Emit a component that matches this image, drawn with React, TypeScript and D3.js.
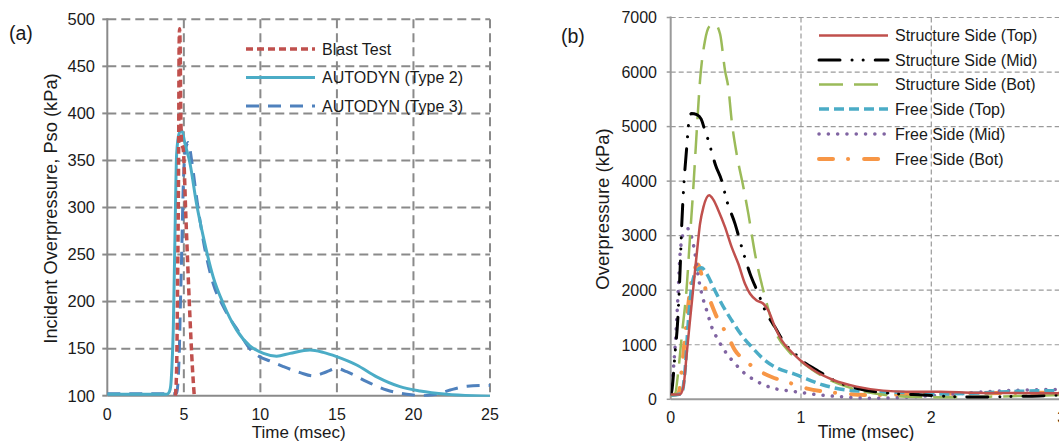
import React from "react";
import * as d3 from "d3";

type Pt = [number, number];

// ---------- Panel (a) data ----------
const aXTicks = [0, 5, 10, 15, 20, 25];
const aYTicks = [100, 150, 200, 250, 300, 350, 400, 450, 500];
const blastTest: Pt[] = [[4.45,100],[4.53,130],[4.6,233],[4.66,357],[4.69,470],[4.72,490],[4.76,470],[4.8,400],[4.86,368],[4.96,362],[5.14,287],[5.36,198],[5.57,127],[5.68,100]];
const autodynType2: Pt[] = [[0,101.5],[3.88,101.5],[4.05,104],[4.14,110],[4.22,130],[4.31,170],[4.42,269],[4.53,357],[4.7,379],[4.86,382],[5.07,368],[5.4,347],[5.83,304],[6.27,269],[6.92,226],[7.57,198],[8.44,170],[9.31,153],[10.2,145],[11.06,142],[11.94,145],[13.24,148.5],[14.11,146],[14.98,141.5],[16.29,132.6],[17.6,120],[19.12,109.6],[20.43,105],[22.17,101.6],[23.9,100],[25,99.5]];
const autodynType3: Pt[] = [[0,102],[4.4,102],[4.53,103],[4.62,115],[4.7,145],[4.78,200],[4.86,251],[4.96,322],[5.06,355],[5.14,364],[5.29,369],[5.51,350],[5.83,311],[6.27,265],[6.92,219],[7.57,195],[8.66,166],[9.31,150],[10.0,141],[10.62,137],[11.5,131],[12.6,124.5],[13.46,121],[14.33,125.5],[14.98,129],[15.64,125.5],[16.95,115],[18.25,106],[19.56,101.6],[20.65,100],[21.5,101.6],[22.4,106],[23.5,110],[25,111]];

// ---------- Panel (b) data ----------
const bXTicks = [0, 1, 2, 3];
const bYTicks = [0, 1000, 2000, 3000, 4000, 5000, 6000, 7000];
const structTop: Pt[] = [[0,90],[0.07,90],[0.097,226],[0.123,836],[0.148,1447],[0.174,2057],[0.2,2668],[0.225,3217],[0.251,3523],[0.295,3740],[0.327,3660],[0.366,3462],[0.417,3156],[0.468,2790],[0.519,2485],[0.57,2118],[0.609,1935],[0.66,1813],[0.711,1752],[0.749,1630],[0.8,1325],[0.852,1081],[0.928,867],[0.992,721],[1.095,537],[1.248,354],[1.427,232],[1.63,159],[1.81,140],[2.07,140],[2.32,122],[2.58,115],[3,110]];
const structMid: Pt[] = [[0,100],[0.008,150],[0.033,836],[0.054,1447],[0.072,2363],[0.084,3156],[0.105,4072],[0.123,4621],[0.141,5110],[0.16,5240],[0.2,5220],[0.233,5140],[0.263,4927],[0.289,4744],[0.315,4530],[0.345,4286],[0.391,4011],[0.43,3645],[0.494,3217],[0.545,2790],[0.609,2302],[0.673,1935],[0.724,1630],[0.8,1325],[0.877,1020],[0.954,836],[1.018,690],[1.12,537],[1.248,354],[1.427,202],[1.68,110],[1.94,79],[2.3,40],[2.58,50],[2.83,61],[3,80]];
const structBot: Pt[] = [[0,79],[0.033,104],[0.059,531],[0.084,1142],[0.123,2057],[0.148,2973],[0.174,3889],[0.2,4927],[0.225,5842],[0.263,6575],[0.302,6850],[0.34,6880],[0.379,6697],[0.417,6026],[0.442,5720],[0.468,5110],[0.506,4500],[0.558,3889],[0.596,3400],[0.647,2668],[0.724,1874],[0.8,1264],[0.91,870],[1.018,660],[1.17,415],[1.35,232],[1.555,110],[1.81,49],[2.07,37],[2.45,49],[3,79]];
const freeTop: Pt[] = [[0,73],[0.084,104],[0.11,531],[0.136,1447],[0.161,2057],[0.2,2363],[0.238,2410],[0.276,2302],[0.327,2057],[0.391,1752],[0.468,1447],[0.545,1172],[0.622,958],[0.724,714],[0.826,562],[0.941,470],[1.0,415],[1.17,263],[1.35,171],[1.555,140],[1.81,122],[2.07,98],[2.32,110],[2.58,140],[3,160]];
const freeMid: Pt[] = [[0,104],[0.02,531],[0.046,1447],[0.059,2057],[0.072,2668],[0.097,3034],[0.136,3126],[0.161,2973],[0.187,2668],[0.212,2241],[0.238,1935],[0.276,1630],[0.315,1325],[0.366,1081],[0.43,836],[0.494,653],[0.57,470],[0.647,348],[0.724,256],[0.8,195],[0.877,165],[0.954,140],[1.04,110],[1.3,49],[1.555,18],[1.81,37],[2.07,79],[2.58,159],[3,183]];
const freeBot: Pt[] = [[0,73],[0.059,104],[0.084,531],[0.11,1142],[0.136,1752],[0.161,2180],[0.21,2470],[0.235,2300],[0.263,2057],[0.302,1813],[0.366,1447],[0.43,1203],[0.494,897],[0.57,714],[0.673,531],[0.775,409],[0.877,330],[1.04,202],[1.3,110],[1.555,79],[1.94,98],[2.32,110],[3,122]];

const aSeries = [
  { name: "Blast Test", data: blastTest, color: "#C0504D", width: 3.5, dash: "7,4", cap: "butt" },
  { name: "AUTODYN (Type 2)", data: autodynType2, color: "#4BACC6", width: 3, dash: "", cap: "butt" },
  { name: "AUTODYN (Type 3)", data: autodynType3, color: "#4F81BD", width: 3, dash: "13,9", cap: "butt" },
];
const bSeries = [
  { name: "Structure Side (Top)", data: structTop, color: "#C0504D", width: 2.5, dash: "", cap: "butt" },
  { name: "Structure Side (Mid)", data: structMid, color: "#000000", width: 3, dash: "21,12,0.1,11,0.1,12", cap: "round" },
  { name: "Structure Side (Bot)", data: structBot, color: "#9BBB59", width: 2.5, dash: "24,11", cap: "butt" },
  { name: "Free Side (Top)", data: freeTop, color: "#4BACC6", width: 3.5, dash: "10,5", cap: "butt" },
  { name: "Free Side (Mid)", data: freeMid, color: "#8064A2", width: 3.5, dash: "0.1,9.2", cap: "round" },
  { name: "Free Side (Bot)", data: freeBot, color: "#F79646", width: 4, dash: "14,15,0.1,16", cap: "round" },
];

const FONT = "'Liberation Sans', Arial, sans-serif";
const TXT = "#1a1a1a";

export default function App() {
  const xA = d3.scaleLinear().domain([0, 25]).range([107.3, 490]);
  const yA = d3.scaleLinear().domain([100, 500]).range([395.7, 19.3]);
  const xB = d3.scaleLinear().domain([0, 3]).range([670.7, 1061.6]);
  const yB = d3.scaleLinear().domain([0, 7000]).range([399.3, 17.5]);

  const lineA = d3.line<Pt>().x(d => xA(d[0])).y(d => yA(d[1])).curve(d3.curveMonotoneX);
  const lineB = d3.line<Pt>().x(d => xB(d[0])).y(d => yB(d[1])).curve(d3.curveMonotoneX);

  const aLeg = [49, 77.5, 106];
  const bLeg = [35.5, 60, 84.5, 109, 134, 159];

  return (
    <svg width={1059} height={441} style={{ position: "absolute", left: 0, top: 0 }} fontFamily={FONT}>
      <rect x={0} y={0} width={1059} height={441} fill="#fff" />
      <defs>
        <clipPath id="clipA"><rect x={xA(0)} y={0} width={xA(25) - xA(0) + 2} height={yA(100) + 1} /></clipPath>
        <clipPath id="clipB"><rect x={xB(0)} y={0} width={xB(3) - xB(0)} height={yB(0) + 1} /></clipPath>
      </defs>

      {/* ---------- Panel (a) ---------- */}
      <g>
        {aXTicks.filter(t => t > 0).map(t => (
          <line key={"agx" + t} x1={xA(t)} x2={xA(t)} y1={yA(500)} y2={yA(100)} stroke="#8a8a8a" strokeWidth={2} strokeDasharray="9,5" />
        ))}
        {aYTicks.filter(t => t > 100).map(t => (
          <line key={"agy" + t} x1={xA(0)} x2={xA(25)} y1={yA(t)} y2={yA(t)} stroke="#8a8a8a" strokeWidth={2} strokeDasharray="9,5" />
        ))}
        <line x1={xA(0)} x2={xA(0)} y1={yA(500) - 1} y2={yA(100)} stroke="#8a8a8a" strokeWidth={2} />
        <line x1={xA(0)} x2={xA(25)} y1={yA(100)} y2={yA(100)} stroke="#8a8a8a" strokeWidth={2} />
        {aYTicks.map(t => (
          <g key={"aty" + t}>
            <line x1={xA(0) - 5} x2={xA(0)} y1={yA(t)} y2={yA(t)} stroke="#8a8a8a" strokeWidth={2} />
            <text x={95} y={yA(t) + 5.8} textAnchor="end" fontSize={16.5} fill={TXT}>{t}</text>
          </g>
        ))}
        {aXTicks.map(t => (
          <text key={"atx" + t} x={xA(t)} y={419.5} textAnchor="middle" fontSize={16} fill={TXT}>{t}</text>
        ))}
        <text x={(xA(0) + xA(25)) / 2} y={438} textAnchor="middle" fontSize={17} fill={TXT}>Time (msec)</text>
        <text transform={`translate(56.5,${208.5}) rotate(-90)`} textAnchor="middle" fontSize={18.3} fill={TXT}>Incident Overpressure,  Pso (kPa)</text>
        <text x={9} y={39.5} fontSize={19.5} fill={TXT}>(a)</text>

        <g clipPath="url(#clipA)">
          {aSeries.slice().reverse().map(s => (
            <path key={s.name} d={lineA(s.data) || ""} fill="none" stroke={s.color} strokeWidth={s.width} strokeDasharray={s.dash || undefined} strokeLinecap={s.cap as any} strokeLinejoin="round" />
          ))}
        </g>
        {aSeries.map((s, i) => (
          <g key={"al" + s.name}>
            <line x1={246} x2={315} y1={aLeg[i]} y2={aLeg[i]} stroke={s.color} strokeWidth={s.width} strokeDasharray={s.dash || undefined} strokeLinecap={s.cap as any} />
            <text x={322} y={aLeg[i] + 5.8} fontSize={16} fill={TXT}>{s.name}</text>
          </g>
        ))}
      </g>

      {/* ---------- Panel (b) ---------- */}
      <g>
        {bXTicks.filter(t => t > 0).map(t => (
          <line key={"bgx" + t} x1={xB(t)} x2={xB(t)} y1={yB(7000)} y2={yB(0)} stroke="#9a9a9a" strokeWidth={1.2} strokeDasharray="5,3" />
        ))}
        {bYTicks.filter(t => t > 0).map(t => (
          <line key={"bgy" + t} x1={xB(0)} x2={xB(3)} y1={yB(t)} y2={yB(t)} stroke="#9a9a9a" strokeWidth={1.2} strokeDasharray="5,3" />
        ))}
        <line x1={xB(0)} x2={xB(0)} y1={yB(7000) - 1} y2={yB(0)} stroke="#9a9a9a" strokeWidth={2} />
        <line x1={xB(0)} x2={xB(3)} y1={yB(0)} y2={yB(0)} stroke="#9a9a9a" strokeWidth={2} />
        {bYTicks.map(t => (
          <g key={"bty" + t}>
            <line x1={xB(0) - 4} x2={xB(0)} y1={yB(t)} y2={yB(t)} stroke="#9a9a9a" strokeWidth={1.5} />
            <text x={657} y={yB(t) + 5.8} textAnchor="end" fontSize={16} fill={TXT}>{t}</text>
          </g>
        ))}
        {bXTicks.map(t => (
          <text key={"btx" + t} x={xB(t)} y={423} textAnchor="middle" fontSize={16} fill={TXT}>{t}</text>
        ))}
        <text x={(xB(0) + xB(3)) / 2} y={438} textAnchor="middle" fontSize={17.5} fill={TXT}>Time (msec)</text>
        <text transform={`translate(609,${209}) rotate(-90)`} textAnchor="middle" fontSize={18.5} fill={TXT}>Overpressure (kPa)</text>
        <text x={561} y={43} fontSize={19.5} fill={TXT}>(b)</text>

        <g clipPath="url(#clipB)">
          {bSeries.slice().reverse().map(s => (
            <path key={s.name} d={lineB(s.data) || ""} fill="none" stroke={s.color} strokeWidth={s.width} strokeDasharray={s.dash || undefined} strokeLinecap={s.cap as any} strokeLinejoin="round" />
          ))}
        </g>
        {bSeries.map((s, i) => (
          <g key={"bl" + s.name}>
            <line x1={819} x2={888} y1={bLeg[i]} y2={bLeg[i]} stroke={s.color} strokeWidth={s.width} strokeDasharray={s.dash || undefined} strokeLinecap={s.cap as any} />
            <text x={895} y={bLeg[i] + 5.8} fontSize={16} fill={TXT}>{s.name}</text>
          </g>
        ))}
      </g>
    </svg>
  );
}
